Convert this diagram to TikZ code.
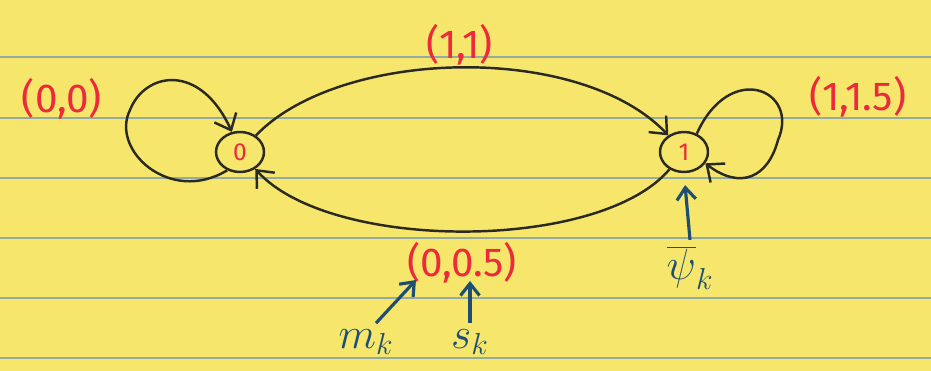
\documentclass[tikz,border=0pt]{standalone}
\usepackage{fontspec}
\setmainfont{Fira Sans}
\usepackage{tikz}
\usetikzlibrary{arrows.meta,shapes.geometric}
\definecolor{padyellow}{HTML}{F6E66C}
\definecolor{padline}{HTML}{93ABA2}
\definecolor{inkred}{HTML}{EC2A3C}
\definecolor{inkblue}{HTML}{1E4F73}
\definecolor{inkblack}{HTML}{2B2A22}

\begin{document}
\begin{tikzpicture}[x=0.02cm,y=-0.02cm,
    state/.style={draw=inkblack,ellipse,line width=1.4pt,minimum width=0.96cm,minimum height=0.8cm,inner sep=0pt,text=inkred,font=\fontsize{14}{16}\selectfont},
    edge/.style={draw=inkblack,line width=1.4pt,-{Straight Barb[length=2.8mm,width=4.8mm,line width=1.4pt]}},
    pointer/.style={draw=inkblue,line width=1.8pt,-{Straight Barb[length=2.4mm,width=3.8mm,line width=1.8pt]}},
    pair/.style={text=inkred,font=\fontsize{23}{26}\selectfont},
    var/.style={text=inkblue,font=\fontsize{24}{28}\selectfont}]
    \fill[padyellow] (0,0) rectangle (931,371);
    \useasboundingbox (0,0) rectangle (931,371);
    \foreach \y in {57,118,178,238,298,358}
      \draw[padline,line width=0.9pt] (0,\y)--(931,\y);
    \node[state] (s0) at (240,152) {0};
    \node[state] (s1) at (684,152) {1};
    \node[pair] (lab00) at (62,99) {(0,0)};
    \node[pair] (lab11) at (460,45) {(1,1)};
    \node[pair] (lab115) at (858,97) {(1,1.5)};
    \node[pair] (lab005) at (462,263) {(0,0.5)};
    \node[var] (mk) at (366,342) {$m_k$};
    \node[var] (sk) at (470,342) {$s_k$};
    \node[var] (psik) at (690,268) {$\overline{\psi}_k$};
    \coordinate (mtip) at (416,280);
    \coordinate (stip) at (470,281);
    \draw[edge] (s0) .. controls (340,48) and (580,42) .. (s1);
    \draw[edge] (s1) .. controls (600,252) and (330,252) .. (s0);
    \draw[edge] (s0.235) .. controls (170,205) and (110,150) .. (130,110) .. controls (145,72) and (200,62) .. (s0.112);
    \draw[edge] (s1.55) .. controls (730,60) and (800,90) .. (778,140) .. controls (768,178) and (740,190) .. (s1.-28);
    \draw[pointer] (mk.62) -- (mtip);
    \draw[pointer] (sk.north) -- (stip);
    \draw[pointer,shorten >=2.4mm] (psik.north) -- (s1.south);
\end{tikzpicture}
\end{document}
